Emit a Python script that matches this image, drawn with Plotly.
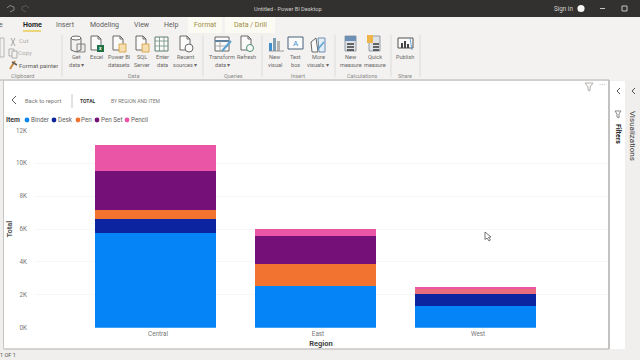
import plotly.graph_objects as go

W, H = 640, 360

# ---- data ----
regions = ["Central", "East", "West"]
items = ["Binder", "Desk", "Pen", "Pen Set", "Pencil"]
binder = [5760, 2520, 1300]
desk = [850, 0, 770]
pen = [550, 1350, 300]
pen_set = [2390, 1730, 0]
pencil = [1560, 380, 100]
series = [binder, desk, pen, pen_set, pencil]
colors = ["#0584F7", "#0D24A0", "#F27230", "#741078", "#EA55A5"]
pen_colors = ["#F27230", "#F27230", "#E86C7E"]
y_ticks = [0, 2000, 4000, 6000, 8000, 10000, 12000]
y_labels = ["0K", "2K", "4K", "6K", "8K", "10K", "12K"]

legend_dots = [27, 54, 78, 97, 127]
legend_text = [29, 56, 79, 99, 129]
legend_y = 120

FONT = "Roboto"


def px(x):
    return x / W


def py(y):
    return 1 - y / H


shapes = []
annots = []


def rect(x0, y0, x1, y1, fill, line=None, lw=1, layer="below"):
    shapes.append(dict(type="rect", xref="paper", yref="paper", x0=px(x0), x1=px(x1), y0=py(y0), y1=py(y1),
                       fillcolor=fill, line=dict(color=line or fill, width=lw if line else 0), layer=layer))


def line(x0, y0, x1, y1, color, lw=1, layer="below"):
    shapes.append(dict(type="line", xref="paper", yref="paper", x0=px(x0), x1=px(x1), y0=py(y0), y1=py(y1),
                       line=dict(color=color, width=lw), layer=layer))


def circle(cx, cy, r, fill, layer="below", outline=None):
    shapes.append(dict(type="circle", xref="paper", yref="paper", x0=px(cx - r), x1=px(cx + r), y0=py(cy - r),
                       y1=py(cy + r), fillcolor=fill, line=dict(color=outline or fill, width=1 if outline else 0),
                       layer=layer))


def poly(points, stroke, fill="rgba(0,0,0,0)", lw=1, layer="below"):
    p = "M" + " L".join(f"{px(a):.5f},{py(b):.5f}" for a, b in points) + " Z"
    shapes.append(dict(type="path", xref="paper", yref="paper", path=p, fillcolor=fill,
                       line=dict(color=stroke, width=lw), layer=layer))


def polyline(points, stroke, lw=1, layer="above"):
    p = "M" + " L".join(f"{px(a):.5f},{py(b):.5f}" for a, b in points)
    shapes.append(dict(type="path", xref="paper", yref="paper", path=p,
                       line=dict(color=stroke, width=lw), layer=layer))


def text(x, y, s, size=6.5, color="#605e5c", anchor="center", bold=False, angle=0, family=FONT):
    annots.append(dict(xref="paper", yref="paper", x=px(x), y=py(y), text=f"<b>{s}</b>" if bold else s,
                       showarrow=False, xanchor=anchor, yanchor="middle", textangle=angle,
                       font=dict(size=size, color=color, family=family)))


# ---- window chrome ----
rect(0, 0, W, 17, "#33312f")
rect(0, 17, W, 80, "#f3f2f1")
rect(0, 80, W, H, "#f0efee")
rect(4, 81, 609, 349, "#ffffff")
line(3.5, 80, 3.5, 349, "#c8c6c4", 1)
line(0, 80, 609, 80, "#c8c6c4", 1.5)
line(4, 349, 609, 349, "#c8c6c4", 1.5)
line(609, 80, 609, 349, "#c4c2c0", 2)
rect(610, 81, 625, 349, "#ffffff")
rect(626, 81, W, 349, "#f0efee")

# title bar
text(288, 8.5, "Untitled - Power BI Desktop", 5.6, "#cfcdcb")
text(563, 8.5, "Sign in", 6.3, "#d8d6d4")
circle(581, 8.5, 3.6, "#f5f5f5")
line(600, 8.5, 605, 8.5, "#c8c6c4", 1)
rect(622, 6, 627, 11, "rgba(0,0,0,0)", "#c8c6c4", 1)
polyline([(7, 8), (10, 5.5), (14, 7), (14, 10), (10, 12)], "#8a8886", 1)
polyline([(29, 8), (26, 5.5), (22, 7), (22, 10), (26, 12)], "#5a5856", 1)

# tabs
text(1, 25, "e", 7, "#605e5c")
text(32, 25, "Home", 7, "#252423", bold=True)
line(23, 31, 41, 31, "#e8c33f", 1.3)
text(65, 25, "Insert", 7)
text(104, 25, "Modeling", 7)
text(142, 25, "View", 7)
text(171, 25, "Help", 7)
rect(188, 17, 222, 33, "#fbfaf3")
rect(225, 17, 275, 33, "#fbfaf3")
text(205, 25, "Format", 7, "#a08d45")
text(250, 25, "Data / Drill", 7, "#a08d45")

# ribbon separators
for sx in [62, 203, 262, 335, 391, 420]:
    line(sx, 35, sx, 77, "#dddbd9", 1)

# clipboard
poly([(0, 38), (4, 38), (4, 57), (0, 57)], "#b8b6b4")
polyline([(11, 38), (15, 46)], "#a8a6a4")
polyline([(15, 38), (11, 46)], "#a8a6a4")
rect(9, 49, 14, 56, "#f3f2f1", "#b0aeac")
rect(12, 51, 17, 58, "#f3f2f1", "#b0aeac")
polyline([(10, 69), (15, 61)], "#c98a3a", 2)
polyline([(12, 62), (17, 65)], "#605e5c", 1.5)
text(23, 41, "Cut", 6.2, "#b0aeac")
text(25, 53, "Copy", 6.2, "#b0aeac")
text(38.5, 65, "Format painter", 6, "#605e5c")
text(22, 76, "Clipboard", 5.5, "#8a8886")


def doc(x, y, w=10, h=14):
    poly([(x, y), (x + w - 3, y), (x + w, y + 3), (x + w, y + h), (x, y + h)], "#6b6967", "#fafafa")
    polyline([(x + w - 3, y), (x + w - 3, y + 3), (x + w, y + 3)], "#6b6967")


# get data
shapes.append(dict(type="circle", xref="paper", yref="paper", x0=px(71), x1=px(81), y0=py(40), y1=py(36),
                   line=dict(color="#6b6967", width=1), fillcolor="#fafafa", layer="below"))
polyline([(71, 38), (71, 50), (76, 52), (81, 50), (81, 38)], "#6b6967")
rect(77, 44, 85, 52, "#ececec", "#6b6967", 0.8)
# excel
doc(91, 36)
rect(97, 45, 104, 52, "#1f7244")
text(100.5, 48.5, "x", 5, "#ffffff", bold=True)
# power bi datasets
doc(113, 36)
rect(119, 44, 126, 52, "#f6dfae", "#d49b3a", 0.8)
# sql
doc(136, 36)
rect(142, 44, 149, 52, "#f6dfae", "#d49b3a", 0.8)
# enter data
rect(155, 37, 168, 51, "#fafafa", "#5f7f70", 1)
for ly in [41, 46]:
    line(155, ly, 168, ly, "#6f8f80", 0.8)
for lx in [159.5, 164]:
    line(lx, 37, lx, 51, "#6f8f80", 0.8)
# recent sources
doc(180, 36)
circle(189, 48, 4, "#fafafa", outline="#6b6967")
# transform
rect(215, 37, 229, 51, "#fafafa", "#6b6967", 1)
line(215, 41, 229, 41, "#5f7f9f", 2)
line(220, 41, 220, 51, "#9a9896", 0.8)
line(215, 46, 229, 46, "#9a9896", 0.8)
polyline([(222, 51), (231, 41)], "#5aa0d0", 2)
# refresh
doc(241, 36)
circle(250, 48, 3.5, "#fafafa", outline="#4a8f6a")
# new visual
rect(269, 43, 272, 51, "#3e8fd0")
rect(273, 38, 276, 51, "#7f9fb5")
rect(277, 41, 280, 51, "#b5b3b1")
line(269, 51, 284, 51, "#8a8886", 0.8)
# text box
rect(288, 37, 303, 49, "#fafafa", "#47607a", 1)
text(295.5, 43, "A", 8, "#3e8fd0")
# more visuals
poly([(311, 42), (316, 38), (318, 52), (312, 52)], "#6b6967", "#fafafa")
poly([(318, 38), (325, 38), (325, 52), (319, 52)], "#6b8fb0", "#e4eef6")
polyline([(318, 49), (324, 42)], "#5aa0d0", 1.5)
# measure
rect(345, 36, 356, 51, "#dfe2e6", "#7f8a96", 0.8)
rect(345, 36, 356, 41, "#6b8fb5")
for gy in [44, 47, 50]:
    line(347, gy, 354, gy, "#3a3a3a", 1.5)
rect(369, 36, 380, 51, "#dfe2e6", "#7f8a96", 0.8)
rect(367, 35, 373, 43, "#efb54a")
for gy in [44, 47, 50]:
    line(373, gy, 379, gy, "#3a3a3a", 1.5)
# publish
rect(398, 38, 413, 48, "#fafafa", "#55534f", 1)
rect(401, 43, 403, 48, "#444444")
rect(404, 41, 406, 48, "#444444")
rect(407, 44, 409, 48, "#444444")
polyline([(410, 38), (412, 50)], "#6aa5d5", 1)

# ribbon labels
for x, a, b in [(76, "Get", "data ▾"), (96, "Excel", ""), (119, "Power BI", "datasets"), (142, "SQL", "Server"),
                (162, "Enter", "data"), (185, "Recent", "sources ▾"), (222, "Transform", "data ▾"),
                (246.5, "Refresh", ""), (275, "New", "visual"), (295, "Text", "box"), (318, "More", "visuals ▾"),
                (351, "New", "measure"), (374.5, "Quick", "measure"), (405, "Publish", "")]:
    text(x, 57, a, 5.6, "#6a6866")
    if b:
        text(x, 65, b, 5.6, "#6a6866")
for x, s in [(133, "Data"), (233, "Queries"), (298, "Insert"), (362, "Calculations"), (405, "Share")]:
    text(x, 76, s, 5.5, "#8a8886")

# status bar
text(8, 355, "1 OF 1", 5.5, "#55534f")

# right panes
polyline([(620, 88), (617, 91), (620, 94)], "#55534f")
polyline([(635, 88), (632, 91), (635, 94)], "#55534f")
poly([(615, 111), (621, 111), (619, 114), (619, 118), (617, 117), (617, 114)], "#8a8886")
text(618, 134, "Filters", 7, "#252423", angle=90, bold=True)
text(633, 136, "Visualizations", 8, "#3b3a39", angle=90)
poly([(585, 83), (593, 83), (590, 87), (590, 91), (588, 90), (588, 87)], "#b0aeac")
text(602, 85, "···", 7, "#a0a0a0", family="DejaVu Sans")

# report header
polyline([(16, 96), (12, 100), (16, 104)], "#605e5c")
text(43, 100.5, "Back to report", 5.8, "#7a7876")
line(72, 94, 72, 108, "#c8c6c4", 1)
text(88, 100.5, "TOTAL", 5, "#3b3a39", bold=True)
text(135, 100.5, "BY REGION AND ITEM", 5, "#7a7876")

# legend
text(13, legend_y, "Item", 6.8, "#3b3a39", bold=True)
for name, col, dx, tx in zip(items, colors, legend_dots, legend_text):
    circle(dx, legend_y, 2.4, col)
    text(tx, legend_y, name, 6.3, "#605e5c", anchor="left")

# mouse cursor
poly([(485, 232), (485, 239.5), (487, 238), (489, 241), (490.5, 240), (488.5, 237.5), (491, 237)], "#555555", "#ffffff",
     0.8, layer="above")

# ---- chart ----
fig = go.Figure()
for name, vals, col in zip(items, series, colors):
    marker_col = pen_colors if name == "Pen" else col
    fig.add_trace(go.Bar(name=name, x=regions, y=vals, width=0.756, offset=-0.394,
                         marker=dict(color=marker_col, line=dict(width=0))))

fig.update_layout(
    width=W, height=H, autosize=False, barmode="stack", showlegend=False,
    margin=dict(l=0, r=0, t=0, b=0, autoexpand=False),
    paper_bgcolor="#ffffff", plot_bgcolor="rgba(0,0,0,0)",
    font=dict(family=FONT, size=6.5, color="#777777"),
    shapes=shapes, annotations=annots,
    xaxis=dict(domain=[px(34), px(608)], range=[-0.775, 2.8125], type="category", showgrid=False, zeroline=False,
               ticks="", tickfont=dict(size=6.3, color="#777777", family=FONT), ticklen=0, ticklabelstandoff=1,
               title=dict(text="<b>Region</b>", font=dict(size=7.5, color="#444444", family=FONT), standoff=3),
               automargin=False, showline=False),
    yaxis=dict(domain=[py(327.7), py(130.4)], range=[0, 12000], tickmode="array", tickvals=y_ticks, ticktext=y_labels,
               gridcolor="#f7f7f7", gridwidth=1, zeroline=False, showline=False, ticks="", ticklabelstandoff=6,
               tickfont=dict(size=6.3, color="#777777", family=FONT),
               title=dict(text="<b>Total</b>", font=dict(size=7.5, color="#555555", family=FONT), standoff=2),
               automargin=False),
)

fig.write_html("out.html", config=dict(displayModeBar=False),
               post_script="document.body.style.margin='0';document.body.style.overflow='hidden';")
